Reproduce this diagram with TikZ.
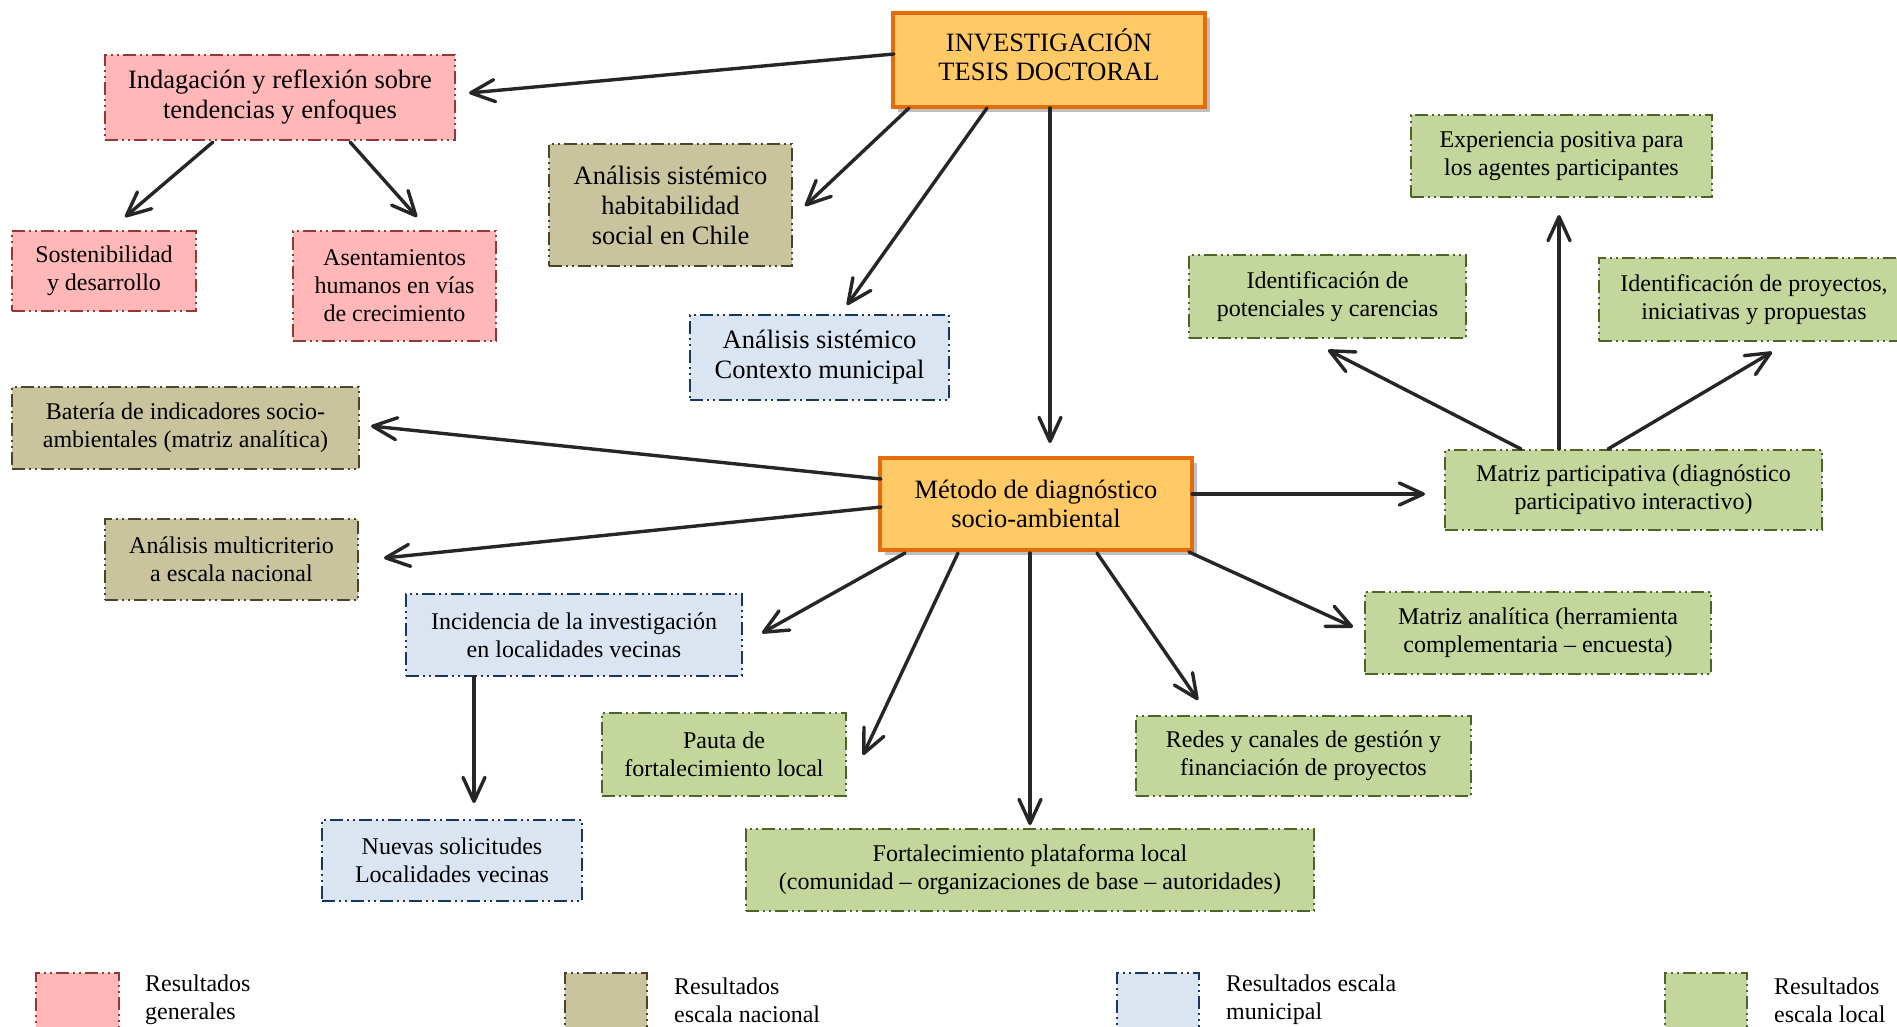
\documentclass[tikz,border=0pt]{standalone}
\usepackage{fontspec}
\setmainfont{Liberation Serif}
\usetikzlibrary{arrows.meta,calc,shadows}
\definecolor{pinkf}{RGB}{255,183,183}
\definecolor{pinkd}{RGB}{149,55,53}
\definecolor{tanf}{RGB}{201,196,158}
\definecolor{tand}{RGB}{74,69,42}
\definecolor{bluef}{RGB}{219,229,241}
\definecolor{blued}{RGB}{23,55,94}
\definecolor{greenf}{RGB}{195,214,155}
\definecolor{greend}{RGB}{79,98,40}
\definecolor{oraf}{RGB}{255,201,102}
\definecolor{orad}{RGB}{228,108,10}
\definecolor{arrc}{RGB}{38,38,38}
\begin{document}
\begin{tikzpicture}[x=1pt,y=-1pt,
  box/.style={line width=2.7pt, dash pattern=on 13pt off 4pt on 2pt off 4pt on 2pt off 4pt,
    align=center, inner sep=0pt, font=\fontsize{24}{28}\selectfont},
  big/.style={font=\fontsize{26.5}{30}\selectfont},
  gen/.style={box, draw=pinkd, fill=pinkf},
  nac/.style={box, draw=tand, fill=tanf},
  mun/.style={box, draw=blued, fill=bluef},
  loc/.style={box, draw=greend, fill=greenf},
  core/.style={draw=orad, fill=oraf, line width=4pt, align=center, inner sep=0pt,
    font=\fontsize{26.5}{29}\selectfont,
    drop shadow={shadow xshift=5pt, shadow yshift=-5pt, fill=black!25, opacity=1}},
  arr/.style={draw=arrc, line width=3.4pt, line cap=round, line join=round,
    -{Straight Barb[length=24pt,width=22pt,line cap=round,line join=round]}},
  legtext/.style={anchor=west, align=left, inner sep=0pt, font=\fontsize{24}{28}\selectfont}
]
\useasboundingbox (0,0) rectangle (1897,1026);
\clip (0,0) rectangle (1897,1026);

% main nodes
\node[core, minimum width=312pt, minimum height=94pt] (top) at (1049,60) {INVESTIGACIÓN\\TESIS DOCTORAL\\[-27pt]\strut};
\node[core, minimum width=312pt, minimum height=92pt] (met) at (1036,504) {Método de diagnóstico\\socio-ambiental};

\node[gen, big, minimum width=350pt, minimum height=85pt] (ind) at (280,97.5) {Indagación y reflexión sobre\\tendencias y enfoques};
\node[gen, minimum width=184pt, minimum height=80pt] (sost) at (104,271) {Sostenibilidad\\y desarrollo};
\node[gen, minimum width=203pt, minimum height=110pt] (asent) at (394.5,286) {Asentamientos\\humanos en vías\\de crecimiento};

\node[nac, big, minimum width=243pt, minimum height=122pt] (habit) at (670.5,205) {Análisis sistémico\\habitabilidad\\social en Chile};
\node[mun, big, minimum width=259pt, minimum height=85pt] (muni) at (819.5,357.5) {Análisis sistémico\\Contexto municipal};

\node[loc, minimum width=301pt, minimum height=82pt] (exper) at (1561.5,156) {Experiencia positiva para\\los agentes participantes};
\node[loc, minimum width=277pt, minimum height=83pt] (ipot) at (1327.5,296.5) {Identificación de\\potenciales y carencias};
\node[loc, minimum width=310pt, minimum height=83pt] (iproy) at (1754,299.5) {Identificación de proyectos,\\iniciativas y propuestas};

\node[nac, minimum width=347pt, minimum height=82pt] (bat) at (185.5,428) {Batería de indicadores socio-\\ambientales (matriz analítica)};
\node[nac, minimum width=253pt, minimum height=81pt] (multi) at (231.5,559.5) {Análisis multicriterio\\a escala nacional};

\node[loc, minimum width=377pt, minimum height=80pt] (mpart) at (1633.5,490) {Matriz participativa (diagnóstico\\participativo interactivo)};
\node[mun, minimum width=336pt, minimum height=82pt] (inc) at (574,635) {Incidencia de la investigación\\en localidades vecinas};
\node[loc, minimum width=346pt, minimum height=82pt] (mana) at (1538,633) {Matriz analítica (herramienta\\complementaria – encuesta)};
\node[loc, minimum width=244pt, minimum height=83pt] (pauta) at (724,754.5) {Pauta de\\fortalecimiento local};
\node[loc, minimum width=335pt, minimum height=80pt] (redes) at (1303.5,756) {Redes y canales de gestión y\\financiación de proyectos};
\node[mun, minimum width=260pt, minimum height=81pt] (nuevas) at (452,860.5) {Nuevas solicitudes\\Localidades vecinas};
\node[loc, minimum width=568pt, minimum height=82pt] (fort) at (1030,870) {Fortalecimiento plataforma local\\(comunidad – organizaciones de base – autoridades)};

% connectors
\draw[arr] ($(top)+(-155,-6)$) -- ($(ind)+(189,-4.5)$);
\draw[arr] ($(ind)+(-67,44.5)$) -- ($(sost)+(21,-54)$);
\draw[arr] ($(ind)+(70,44.5)$) -- ($(asent)+(22.5,-69)$);
\draw[arr] ($(top)+(-140,48)$) -- ($(habit)+(134.5,1)$);
\draw[arr] ($(top)+(-62,48)$) -- ($(muni)+(27.5,-52.5)$);
\draw[arr] ($(top)+(1,48)$) -- ($(met)+(14,-61)$);
\draw[arr] ($(met)+(-155,-25)$) -- ($(bat)+(185.5,-2)$);
\draw[arr] ($(met)+(-155,3)$) -- ($(multi)+(152.5,-1.5)$);
\draw[arr] ($(met)+(156,-10)$) -- ($(mpart)+(-208.5,4)$);
\draw[arr] ($(met)+(-131,49)$) -- ($(inc)+(188,-2)$);
\draw[arr] ($(met)+(-78,49)$) -- ($(pauta)+(139,0.5)$);
\draw[arr] ($(met)+(-6,49)$) -- ($(fort)+(0,-45)$);
\draw[arr] ($(met)+(61,49)$) -- ($(redes)+(-105.5,-56)$);
\draw[arr] ($(met)+(153,48)$) -- ($(mana)+(-185,-6)$);
\draw[arr] ($(inc)+(-100,42)$) -- ($(nuevas)+(22,-57.5)$);
\draw[arr] ($(mpart)+(-74.5,-41)$) -- ($(exper)+(-2.5,59)$);
\draw[arr] ($(mpart)+(-112.5,-41)$) -- ($(ipot)+(0.5,53.5)$);
\draw[arr] ($(mpart)+(-25.5,-41)$) -- ($(iproy)+(18,52.5)$);

% legend
\node[gen, minimum width=83pt, minimum height=70pt] (lg1) at (77.5,1008) {};
\node[legtext] (lt1) at (145,1000) {Resultados\\generales};
\node[nac, minimum width=82pt, minimum height=70pt] (lg2) at (606,1008) {};
\node[legtext] (lt2) at (674,1000) {Resultados\\escala nacional};
\node[mun, minimum width=82pt, minimum height=70pt] (lg3) at (1158,1008) {};
\node[legtext] (lt3) at (1226,1000) {Resultados escala\\municipal};
\node[loc, minimum width=82pt, minimum height=70pt] (lg4) at (1706,1008) {};
\node[legtext] (lt4) at (1774,1000) {Resultados\\escala local};
\end{tikzpicture}
\end{document}
